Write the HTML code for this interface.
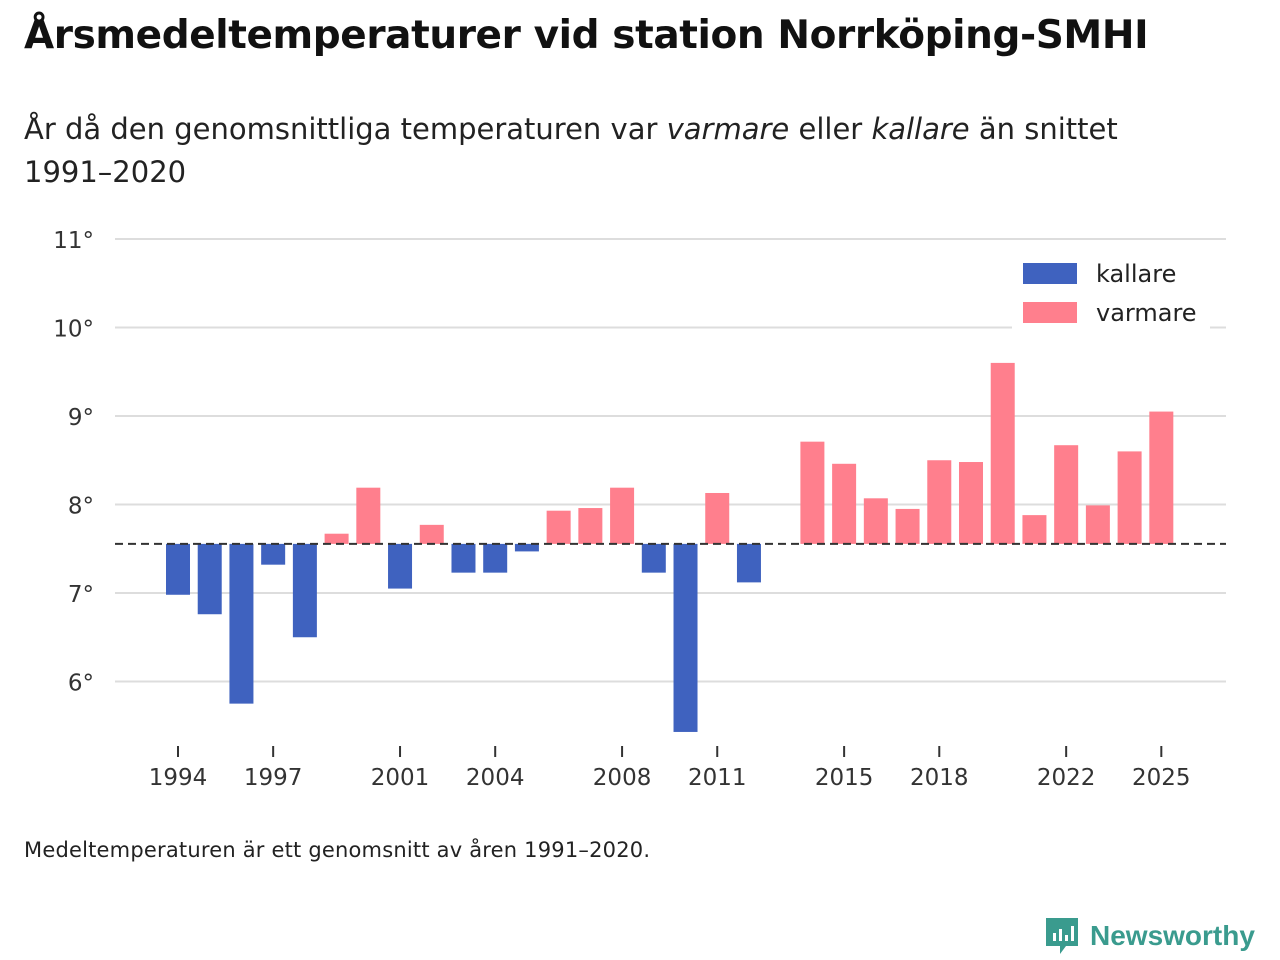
<!DOCTYPE html>
<html><head><meta charset="utf-8"><style>
body{margin:0;width:1280px;height:960px;background:#fff;font-family:"DejaVu Sans","Liberation Sans",sans-serif;color:#111;position:relative;overflow:hidden}
#title{position:absolute;left:24px;top:13px;font-size:39px;font-weight:bold;letter-spacing:-0.4px}
#sub{position:absolute;left:24px;top:108px;font-size:29px;line-height:43px;font-weight:normal;color:#222;width:1130px}
#foot{position:absolute;left:24px;top:838px;font-size:21px;color:#222;letter-spacing:0.2px}
#logo{position:absolute;left:1044px;top:916px;font-size:28px;font-weight:bold;color:#3a9b8e;display:flex;align-items:center;gap:10px;font-family:"Liberation Sans",sans-serif}
svg{position:absolute;left:0;top:0}
</style></head><body>
<div id="title">Årsmedeltemperaturer vid station Norrköping-SMHI</div>
<div id="sub">År då den genomsnittliga temperaturen var <i>varmare</i> eller <i>kallare</i> än snittet 1991–2020</div>
<svg id="chart" width="1280" height="960"></svg>
<div id="foot">Medeltemperaturen är ett genomsnitt av åren 1991–2020.</div>
<div id="logo"><svg width="36" height="40" style="position:static"><path d="M2 2h32v28h-12l-6 8v-8H2z" fill="#3a9b8e"/><rect x="9" y="17" width="3" height="8" fill="#fff"/><rect x="15" y="13" width="3" height="12" fill="#fff"/><rect x="21" y="19" width="3" height="6" fill="#fff"/><rect x="27" y="10" width="3" height="15" fill="#fff"/></svg><span>Newsworthy</span></div>
<script>
const years=[1994,1995,1996,1997,1998,1999,2000,2001,2002,2003,2004,2005,2006,2007,2008,2009,2010,2011,2012,2013,2014,2015,2016,2017,2018,2019,2020,2021,2022,2023,2024,2025];
const temps=[6.98,6.76,5.75,7.32,6.50,7.67,8.19,7.05,7.77,7.23,7.23,7.47,7.93,7.96,8.19,7.23,5.43,8.13,7.12,null,8.71,8.46,8.07,7.95,8.50,8.48,9.60,7.88,8.67,7.99,8.60,9.05];
const baseline=7.555;
const yTicks=[6,7,8,9,10,11];
const xTicks=[1994,1997,2001,2004,2008,2011,2015,2018,2022,2025];
const NS='http://www.w3.org/2000/svg';
const svg=document.getElementById('chart');
const x=yr=>178+(yr-1994)*31.72;
const y=v=>593-(v-7)*88.5;
function mk(t,a,p){const e=document.createElementNS(NS,t);for(const k in a)e.setAttribute(k,a[k]);(p||svg).appendChild(e);return e;}
yTicks.forEach(t=>{
 const g=mk('line',{x1:115,x2:1226,y1:y(t),y2:y(t),stroke:'#ddd','stroke-width':2});
 
 
 const l=mk('text',{x:94,y:y(t)+9,'text-anchor':'end','font-size':23,fill:'#333'});l.textContent=t+'°';
 
 
});
years.forEach((yr,i)=>{
 const v=temps[i];if(v==null)return;
 const top=Math.min(y(v),y(baseline)),h=Math.abs(y(v)-y(baseline));
 const r=mk('rect',{x:x(yr)-12,y:top,width:24,height:h,fill:v<baseline?'#3f62bf':'#ff7f8d'});
 
 
});
const bl=mk('line',{x1:115,x2:1226,y1:y(baseline),y2:y(baseline),stroke:'#333','stroke-width':2,'stroke-dasharray':'8,5'});


xTicks.forEach(t=>{
 const k=mk('line',{x1:x(t),x2:x(t),y1:746,y2:757,stroke:'#333','stroke-width':2});
 
 
 const l=mk('text',{x:x(t),y:785,'text-anchor':'middle','font-size':23,fill:'#333'});l.textContent=t;
 
 
});
const lg=mk('g',{});


mk('rect',{x:1012,y:252,width:198,height:82,fill:'#fff'},lg);
[['kallare','#3f62bf',263],['varmare','#ff7f8d',302]].forEach(([n,c,yy])=>{
 const r=mk('rect',{x:1023,y:yy,width:54,height:21,fill:c},lg);
 
 
 const t=mk('text',{x:1096,y:yy+19,'font-size':24,fill:'#222'},lg);t.textContent=n;
 
 
});
</script>
</body></html>
